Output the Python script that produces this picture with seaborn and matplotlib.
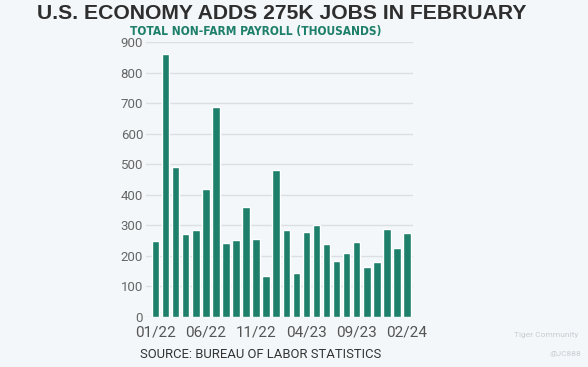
import matplotlib
matplotlib.use("Agg")
import matplotlib.pyplot as plt
import seaborn as sns
import pandas as pd

months = ["01/22", "02/22", "03/22", "04/22", "05/22", "06/22", "07/22", "08/22", "09/22",
          "10/22", "11/22", "12/22", "01/23", "02/23", "03/23", "04/23", "05/23", "06/23",
          "07/23", "08/23", "09/23", "10/23", "11/23", "12/23", "01/24", "02/24"]
payroll = [250, 861, 492, 271, 284, 418, 688, 241, 253, 359, 255, 134, 480,
           285, 143, 277, 301, 238, 182, 208, 245, 163, 180, 288, 227, 275]
label_months = ["01/22", "06/22", "11/22", "04/23", "09/23", "02/24"]
y_ticks = [0, 100, 200, 300, 400, 500, 600, 700, 800, 900]

bg = "#F3F7FA"
green = "#1E7F6A"

sns.set_style("white")
plt.rcParams["font.family"] = ["Roboto", "DejaVu Sans"]

df = pd.DataFrame({"month": months, "payroll": payroll})

fig = plt.figure(figsize=(5.88, 3.67), dpi=100, facecolor=bg)
ax = fig.add_axes([0.2483, 0.1362, 0.4541, 0.7494], facecolor=bg)

sns.barplot(data=df, x="month", y="payroll", color=green, saturation=1,
            width=0.75, ax=ax, zorder=3)

ax.set_ylim(0, 900)
ax.set_xlim(-0.95, 25.6)
ax.set_yticks(y_ticks)
ax.set_yticklabels([str(v) for v in y_ticks], color="#666666", fontsize=9.5)
ax.grid(axis="y", color="#DADFE3", linewidth=1, zorder=0)
ax.tick_params(axis="y", length=0, pad=2)

pos = [months.index(m) for m in label_months]
ax.set_xticks(pos)
ax.set_xticklabels(label_months, color="#555555", fontsize=11)
ax.set_xticks(range(len(months)), minor=True)
ax.tick_params(axis="x", which="both", length=4, color="#C8CCD0", width=0.8, pad=2)

for s in ax.spines.values():
    s.set_visible(False)
ax.set_xlabel("")
ax.set_ylabel("")

fig.text(0.479, 0.962, "U.S. ECONOMY ADDS 275K JOBS IN FEBRUARY", ha="center", va="center",
         fontsize=15.2, fontweight="bold", color="#2E2E2E",
         family=["Liberation Sans", "DejaVu Sans"])
fig.text(0.4345, 0.914, "TOTAL NON-FARM PAYROLL (THOUSANDS)", ha="center", va="center",
         fontsize=8.6, fontweight="bold", color="#1E7F6A", fontstretch="condensed",
         family=["DejaVu Sans"])
fig.text(0.238, 0.035, "SOURCE: BUREAU OF LABOR STATISTICS", ha="left", va="center",
         fontsize=9.4, color="#333333")
fig.text(0.875, 0.087, "Tiger Community", ha="left", va="center", fontsize=6, color="#C9CDD1")
fig.text(0.935, 0.035, "@JC888", ha="left", va="center", fontsize=6, color="#C9CDD1")

fig.savefig("out.png", dpi=100, facecolor=bg)
